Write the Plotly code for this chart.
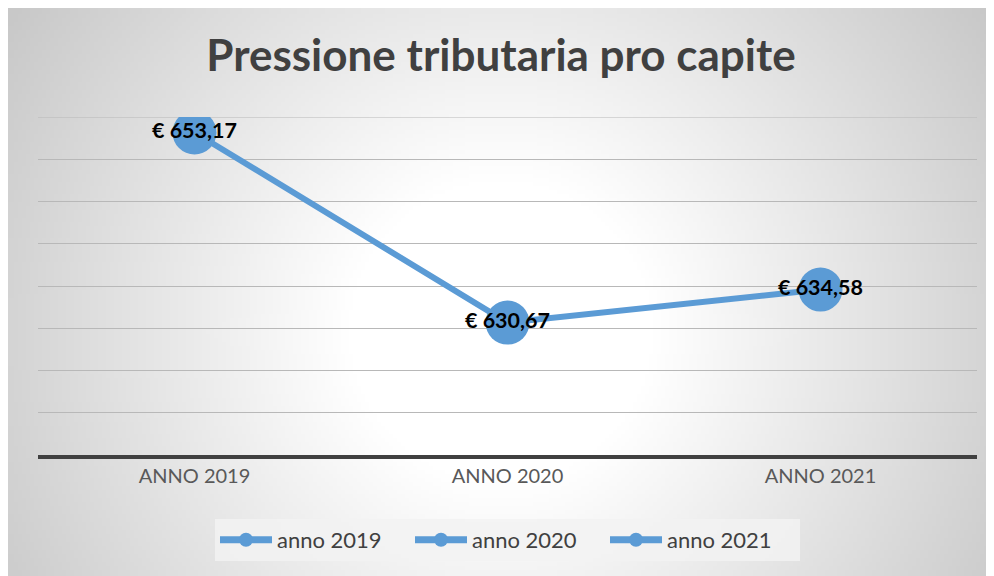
import base64
import math
import struct
import zlib

import plotly.graph_objects as go

# Chart data
categories = ['ANNO 2019', 'ANNO 2020', 'ANNO 2021']
values = [653.17, 630.67, 634.58]
legend_names = ['anno 2019', 'anno 2020', 'anno 2021']
y_min, y_max, y_step = 615, 655, 5

BLUE = '#5B9BD5'
GRID = '#b8b8b8'
# The page puts the figure 8px in from the top-left corner
W, H = 986, 568
L, R, T, B = 30, 17, 109, 121


def gradient_png(w, h, scale):
    """Builds a small grayscale PNG with a radial white-to-gray gradient"""
    cx, cy = 492 / scale, 322 / scale
    rows = []
    for j in range(h):
        row = bytearray([0])
        for i in range(w):
            r = math.hypot(i - cx, j - cy) * scale
            t = min(max((r - 150) / 450, 0), 1)
            row.append(int(round(255 - 57 * t)))
        rows.append(bytes(row))
    raw = zlib.compress(b''.join(rows), 9)

    def chunk(tag, data):
        c = struct.pack('>I', len(data)) + tag + data
        return c + struct.pack('>I', zlib.crc32(tag + data) & 0xffffffff)

    png = b'\x89PNG\r\n\x1a\n'
    png += chunk(b'IHDR', struct.pack('>IIBBBBB', w, h, 8, 0, 0, 0, 0))
    png += chunk(b'IDAT', raw)
    png += chunk(b'IEND', b'')
    return 'data:image/png;base64,' + base64.b64encode(png).decode()


fig = go.Figure()
fig.add_trace(go.Scatter(
    x=categories,
    y=values,
    mode='lines+markers+text',
    line={'color': BLUE, 'width': 6},
    marker={'color': BLUE, 'size': 44},
    texttemplate='€ %{y:.2f}',
    textposition='middle center',
    textfont={'family': 'Lato', 'size': 21.5, 'color': 'black', 'weight': 'bold'},
    showlegend=False,
    hoverinfo='skip'))
# Legend entries, one per year
for name in legend_names:
    fig.add_trace(go.Scatter(
        x=[None],
        y=[None],
        name=name,
        mode='lines+markers',
        line={'color': BLUE, 'width': 7},
        marker={'color': BLUE, 'size': 14}))

# Background: radial gradient over the whole figure
pw, ph = W - L - R, H - T - B
fig.add_layout_image(
    source=gradient_png(247, 142, 4),
    xref='paper', yref='paper',
    x=-L / pw, y=(H - B) / ph,
    sizex=W / pw, sizey=H / ph,
    xanchor='left', yanchor='top',
    sizing='stretch', layer='below')
# Plotly leaves out the gridline on the top edge, so draw it
fig.add_shape(type='line', xref='paper', x0=0, x1=1, yref='y', y0=y_max, y1=y_max,
              line={'color': GRID, 'width': 1}, layer='below')

fig.update_layout(
    width=W, height=H,
    margin={'l': L, 'r': R, 't': T, 'b': B},
    paper_bgcolor='#d0d0d0',
    plot_bgcolor='rgba(0,0,0,0)',
    separators=',.',
    font={'family': 'Lato', 'color': '#404040'},
    title={
        'text': 'Pressione tributaria pro capite',
        'font': {'family': 'Lato', 'size': 44, 'color': '#404040', 'weight': 'bold'},
        'x': 0.5, 'xanchor': 'center',
        'yref': 'container', 'y': 1 - 48 / H, 'yanchor': 'middle'},
    legend={
        'orientation': 'h',
        'x': 0.5, 'xanchor': 'center',
        'y': (H - B - 532) / ph, 'yanchor': 'middle',
        'bgcolor': 'rgba(242,242,242,0.85)',
        'font': {'family': 'Lato', 'size': 22, 'color': '#404040'},
        'itemwidth': 52,
        'entrywidth': 128},
    showlegend=True)
fig.update_xaxes(
    range=[-0.5, 2.5],
    showgrid=False,
    showline=True, linecolor='#404040', linewidth=3.5,
    ticks='',
    tickfont={'family': 'Lato', 'size': 20, 'color': '#595959'})
fig.update_yaxes(
    range=[y_min, y_max], dtick=y_step,
    showgrid=True, gridcolor=GRID, gridwidth=1,
    zeroline=False, showticklabels=False)

fig.write_html('out.html')
